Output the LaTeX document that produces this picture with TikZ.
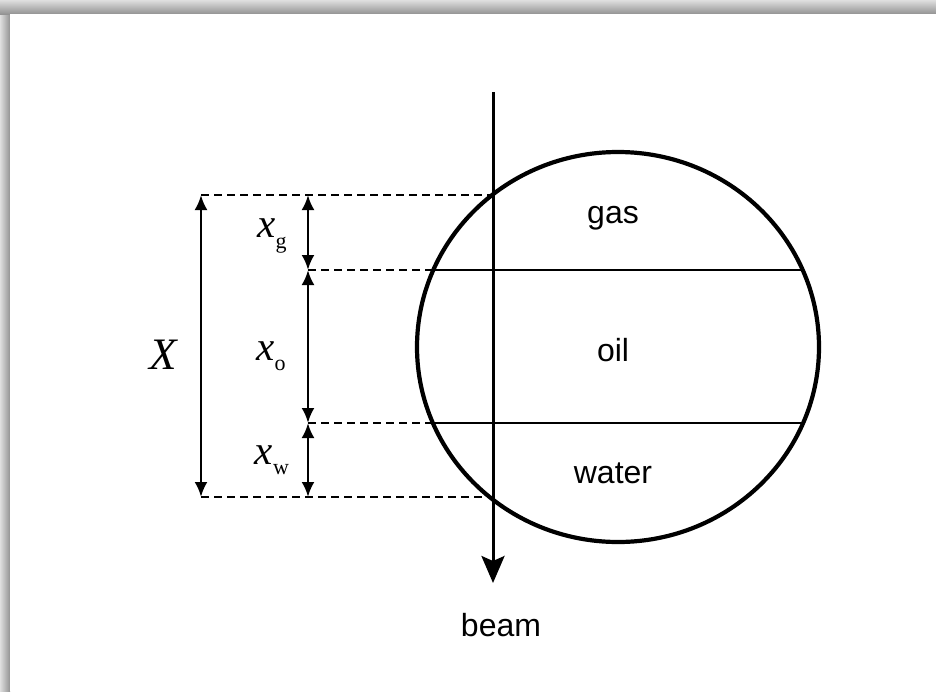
\documentclass[tikz,border=0pt]{standalone}
\usepackage{fontspec}
\setmainfont{Liberation Sans}
\newfontfamily\serif{Liberation Serif}
\usetikzlibrary{arrows.meta}
\tikzset{
  circline/.style={line width=4.2pt},
  beamline/.style={line width=3pt, -{Stealth[length=27pt,width=23pt,inset=5pt]}},
  chord/.style={line width=2.4pt},
  dimline/.style={line width=2.6pt, {Latex[length=15pt,width=13pt]}-{Latex[length=15pt,width=13pt]}},
  guide/.style={line width=2.1pt, dash pattern=on 8pt off 5pt},
  lbl/.style={inner sep=0pt, font=\fontsize{32}{36}\selectfont},
  sym/.style={inner sep=0pt, font=\fontsize{41}{44}\selectfont\serif\itshape},
  bigsym/.style={inner sep=0pt, font=\fontsize{45}{50}\selectfont\serif\itshape},
}
\newcommand{\subtxt}[1]{\raisebox{-0.25em}{\upshape\fontsize{22}{22}\selectfont #1}}
\begin{document}
\begin{tikzpicture}[x=1pt,y=-1pt]
\useasboundingbox (0,0) rectangle (936,691);
% frame shadow
\shade[left color=gray!25, right color=gray!85] (0,0) rectangle (10,691);
\shade[top color=gray!25, bottom color=gray!85] (0,0) rectangle (936,14);
\fill[white] (10,14) rectangle (936,691);

% named points
\coordinate (btop) at (493,92);
\coordinate (bend) at (493,583);
\coordinate (ctr) at (618,347);
\coordinate (Xt) at (201,195);
\coordinate (Xb) at (201,497);
\coordinate (st) at (308,195);
\coordinate (sgo) at (308,270);
\coordinate (sow) at (308,423);
\coordinate (sb) at (308,497);
\coordinate (itop) at (493,195);
\coordinate (ibot) at (493,497);
\coordinate (gol) at (433,270);
\coordinate (gor) at (803,270);
\coordinate (owl) at (433,423);
\coordinate (owr) at (803,423);

% vessel
\draw[circline] (ctr) ellipse [x radius=201, y radius=195];
\draw[chord] (gol) -- (gor);
\draw[chord] (owl) -- (owr);

% guides
\draw[guide] (Xt) -- (itop);
\draw[guide] (sgo) -- (gol);
\draw[guide] (sow) -- (owl);
\draw[guide] (Xb) -- (ibot);

% dimensions
\draw[dimline] (Xt) -- (Xb);
\draw[dimline] (st) -- (sgo);
\draw[dimline] (sgo) -- (sow);
\draw[dimline] (sow) -- (sb);

% beam
\draw[beamline] (btop) -- (bend);

% labels
\node[lbl] (gas) at (613,218) {gas};
\node[lbl] (oil) at (613,350) {oil};
\node[lbl] (water) at (613,473) {water};
\node[lbl] (beam) at (501,625) {beam};
\node[bigsym] (X) at (163,355) {X};
\node[sym] (xg) at (272,236) {x\subtxt{g}};
\node[sym] (xo) at (271,356) {x\subtxt{o}};
\node[sym] (xw) at (272,460) {x\subtxt{w}};
\end{tikzpicture}
\end{document}
